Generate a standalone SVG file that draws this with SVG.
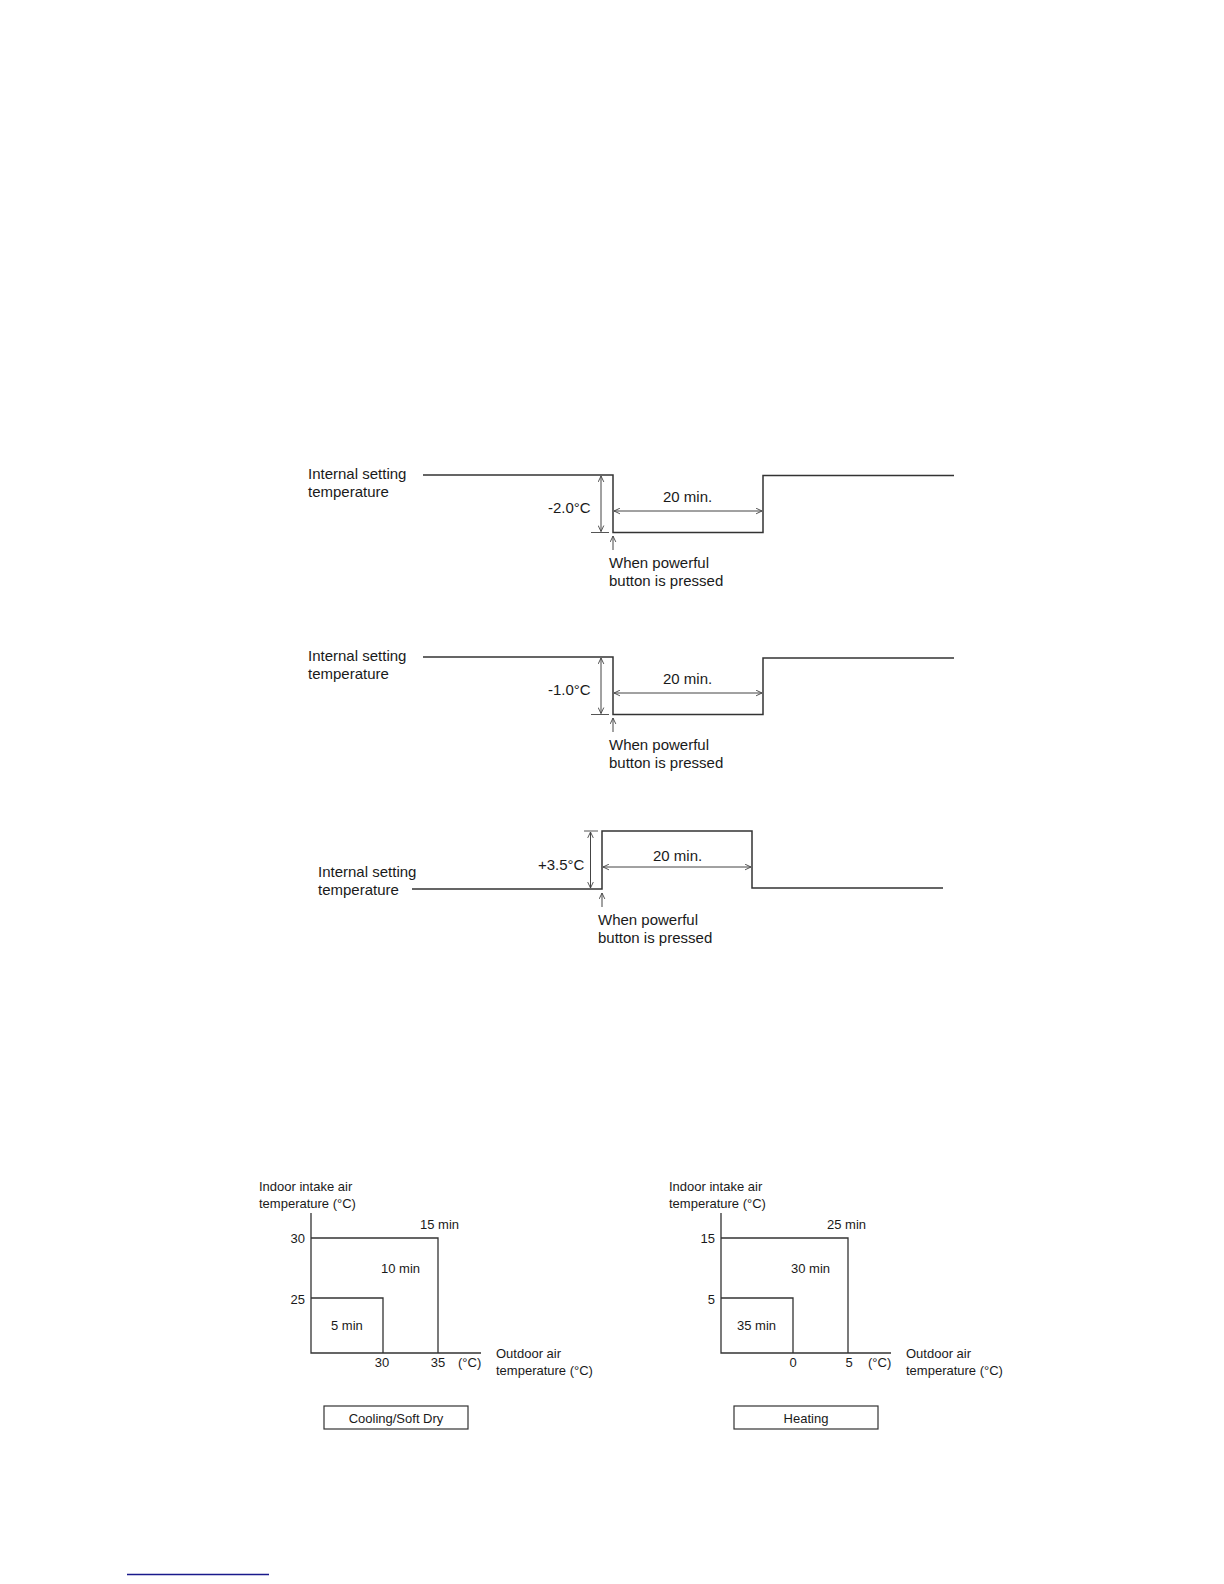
<svg xmlns="http://www.w3.org/2000/svg" width="1224" height="1584" viewBox="0 0 1224 1584">
<defs>
<style>
.t{font-family:"Liberation Sans",Arial,sans-serif;font-size:15px;fill:#1a1a1a}
.s{font-family:"Liberation Sans",Arial,sans-serif;font-size:13px;fill:#1a1a1a}
.ln{fill:none;stroke:#333;stroke-width:1.5}
.ax{fill:none;stroke:#333;stroke-width:1.3}
.dim{fill:none;stroke:#444;stroke-width:1;marker-start:url(#ah);marker-end:url(#ah)}
.up{fill:none;stroke:#444;stroke-width:1;marker-end:url(#ah)}
.tick{fill:none;stroke:#555;stroke-width:1}
.box{fill:#fff;stroke:#333;stroke-width:1.2}
</style>
<marker id="ah" viewBox="0 0 10 10" refX="9.5" refY="5" markerWidth="7" markerHeight="7" markerUnits="userSpaceOnUse" orient="auto-start-reverse">
<path d="M1,1 L9.5,5 L1,9" fill="none" stroke="#444" stroke-width="1.3"/>
</marker>
</defs>
<rect width="1224" height="1584" fill="#fff"/>

<g id="chart-cooling-powerful">
<text class="t" x="308" y="479">Internal setting</text>
<text class="t" x="308" y="497">temperature</text>
<polyline class="ln" points="423,475 613,475 613,532.5 763,532.5 763,475.5 954,475.5"/>
<line class="tick" x1="591" y1="532.5" x2="609" y2="532.5"/>
<text class="t" x="548" y="513">-2.0°C</text>
<text class="t" x="663" y="502">20 min.</text>
<text class="t" x="609" y="568">When powerful</text>
<text class="t" x="609" y="586">button is pressed</text>
</g>

<g id="chart-dry-powerful">
<text class="t" x="308" y="661">Internal setting</text>
<text class="t" x="308" y="679">temperature</text>
<polyline class="ln" points="423,657 613,657 613,714.5 763,714.5 763,658 954,658"/>
<line class="tick" x1="591" y1="714.5" x2="609" y2="714.5"/>
<text class="t" x="548" y="695">-1.0°C</text>
<text class="t" x="663" y="684">20 min.</text>
<text class="t" x="609" y="750">When powerful</text>
<text class="t" x="609" y="768">button is pressed</text>
</g>

<g id="chart-heating-powerful">
<text class="t" x="318" y="877">Internal setting</text>
<text class="t" x="318" y="895">temperature</text>
<polyline class="ln" points="412,889 602,889 602,831 752,831 752,888 943,888"/>
<line class="tick" x1="584" y1="831" x2="598" y2="831"/>
<text class="t" x="538" y="870">+3.5°C</text>
<text class="t" x="653" y="861">20 min.</text>
<text class="t" x="598" y="925">When powerful</text>
<text class="t" x="598" y="943">button is pressed</text>
</g>

<g id="connectors">
<line class="dim" x1="601" y1="476" x2="601" y2="531.5"/>
<line class="dim" x1="614" y1="511" x2="762" y2="511"/>
<line class="up" x1="613" y1="550" x2="613" y2="536"/>
<line class="dim" x1="601" y1="658" x2="601" y2="713.5"/>
<line class="dim" x1="614" y1="693" x2="762" y2="693"/>
<line class="up" x1="613" y1="732" x2="613" y2="718"/>
<line class="dim" x1="590.5" y1="832" x2="590.5" y2="888"/>
<line class="dim" x1="603" y1="867" x2="751" y2="867"/>
<line class="up" x1="602" y1="907" x2="602" y2="893"/>
</g>

<g id="graph-cooling">
<text class="s" x="259" y="1191">Indoor intake air</text>
<text class="s" x="259" y="1208">temperature (°C)</text>
<polyline class="ax" points="311,1213 311,1353 481,1353"/>
<polyline class="ax" points="311,1238 438,1238 438,1353"/>
<polyline class="ax" points="311,1298 383,1298 383,1353"/>
<text class="s" x="305" y="1243" text-anchor="end">30</text>
<text class="s" x="305" y="1304" text-anchor="end">25</text>
<text class="s" x="420" y="1229">15 min</text>
<text class="s" x="381" y="1273">10 min</text>
<text class="s" x="331" y="1330">5 min</text>
<text class="s" x="382" y="1367" text-anchor="middle">30</text>
<text class="s" x="438" y="1367" text-anchor="middle">35</text>
<text class="s" x="458" y="1367">(°C)</text>
<text class="s" x="496" y="1358">Outdoor air</text>
<text class="s" x="496" y="1375">temperature (°C)</text>
<rect class="box" x="324" y="1406" width="144" height="23"/>
<text class="s" x="396" y="1422.5" text-anchor="middle">Cooling/Soft Dry</text>
</g>

<g id="graph-heating">
<text class="s" x="669" y="1191">Indoor intake air</text>
<text class="s" x="669" y="1208">temperature (°C)</text>
<polyline class="ax" points="721,1213 721,1353 891,1353"/>
<polyline class="ax" points="721,1238 848,1238 848,1353"/>
<polyline class="ax" points="721,1298 793,1298 793,1353"/>
<text class="s" x="715" y="1243" text-anchor="end">15</text>
<text class="s" x="715" y="1304" text-anchor="end">5</text>
<text class="s" x="827" y="1229">25 min</text>
<text class="s" x="791" y="1273">30 min</text>
<text class="s" x="737" y="1330">35 min</text>
<text class="s" x="793" y="1367" text-anchor="middle">0</text>
<text class="s" x="849" y="1367" text-anchor="middle">5</text>
<text class="s" x="868" y="1367">(°C)</text>
<text class="s" x="906" y="1358">Outdoor air</text>
<text class="s" x="906" y="1375">temperature (°C)</text>
<rect class="box" x="734" y="1406" width="144" height="23"/>
<text class="s" x="806" y="1422.5" text-anchor="middle">Heating</text>
</g>

<line id="footer-rule" x1="127" y1="1574.5" x2="269" y2="1574.5" stroke="#1a1a8c" stroke-width="1.5"/>
</svg>
